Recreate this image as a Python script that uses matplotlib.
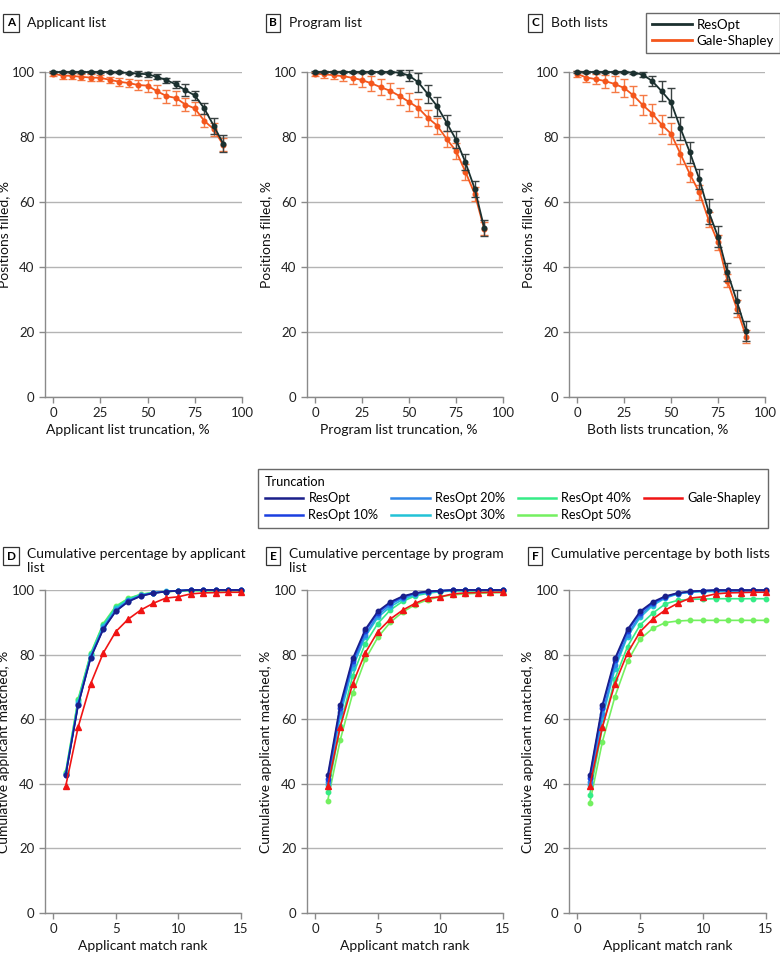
import numpy as np
import matplotlib
matplotlib.use("Agg")
import matplotlib.pyplot as plt

plt.rcParams['font.family'] = ['Lato', 'DejaVu Sans']

# top row: positions filled vs truncation
trunc = [0, 5, 10, 15, 20, 25, 30, 35, 40, 45, 50, 55, 60, 65, 70, 75, 80, 85, 90]

app_resopt = [100, 100, 100, 100, 100, 100, 100, 99.9, 99.7, 99.5, 99.3, 98.5, 97.5, 96.2, 94.4, 92.8, 88.8, 83.5, 78.0]
app_resopt_err = [0.3, 0.3, 0.3, 0.3, 0.3, 0.3, 0.3, 0.3, 0.4, 0.8, 0.8, 0.8, 0.8, 1.0, 1.8, 1.5, 1.8, 2.5, 2.5]
app_gs = [99.5, 98.9, 98.8, 98.5, 98.3, 98.2, 97.6, 97.0, 96.6, 96.0, 95.8, 94.1, 92.6, 92.0, 90.0, 88.8, 85.0, 82.4, 77.6]
app_gs_err = [0.6, 1.0, 1.0, 1.0, 1.0, 1.0, 1.0, 1.2, 1.3, 1.6, 1.8, 2.0, 2.0, 2.2, 2.0, 2.0, 2.0, 2.0, 2.0]

prog_resopt = [100, 100, 100, 100, 100, 100, 100, 100, 100, 99.8, 98.9, 96.8, 93.2, 89.4, 84.4, 79.2, 72.2, 64.0, 52.0]
prog_resopt_err = [0.2, 0.2, 0.2, 0.2, 0.2, 0.2, 0.2, 0.2, 0.2, 0.8, 1.8, 3.0, 2.8, 2.8, 2.5, 2.5, 2.5, 2.5, 2.5]
prog_gs = [99.5, 99.3, 99.0, 98.7, 98.2, 97.5, 96.5, 95.3, 94.2, 92.6, 90.8, 88.9, 85.9, 83.5, 79.4, 75.7, 69.3, 62.4, 51.7]
prog_gs_err = [0.6, 1.0, 1.2, 1.6, 1.9, 2.2, 2.3, 2.5, 2.5, 2.6, 2.8, 2.8, 2.5, 2.5, 2.5, 2.5, 2.5, 2.2, 2.0]

both_resopt = [100, 100, 100, 100, 100, 100, 99.8, 99.2, 97.2, 94.1, 90.7, 82.7, 75.3, 67.1, 57.1, 49.3, 38.4, 29.5, 20.3]
both_resopt_err = [0.3, 0.3, 0.3, 0.3, 0.3, 0.3, 0.3, 0.8, 1.5, 3.0, 4.5, 3.5, 3.3, 3.2, 3.8, 3.2, 2.8, 3.5, 3.0]
both_gs = [99.4, 98.3, 97.8, 97.2, 96.3, 95.1, 92.8, 89.8, 87.2, 83.8, 81.0, 74.8, 68.6, 63.0, 54.5, 47.6, 35.7, 27.2, 18.5]
both_gs_err = [0.8, 1.5, 1.5, 2.0, 2.5, 2.8, 2.8, 3.0, 3.0, 3.0, 3.3, 3.2, 2.4, 2.3, 2.3, 2.3, 2.0, 2.5, 2.0]

# bottom row: cumulative matched vs match rank
rank = list(range(1, 16))
gs_cum = [39.2, 57.6, 71.0, 80.5, 87.1, 91.0, 93.8, 95.9, 97.5, 97.9, 98.8, 99.1, 99.2, 99.3, 99.3]

d_series = {
    'ResOpt':     [42.6, 64.4, 79.0, 87.8, 93.4, 96.4, 98.1, 99.0, 99.5, 99.8, 100, 100, 100, 100, 100],
    'ResOpt 10%': [42.7, 64.5, 79.1, 87.9, 93.5, 96.5, 98.2, 99.1, 99.5, 99.8, 100, 100, 100, 100, 100],
    'ResOpt 20%': [42.9, 64.8, 79.4, 88.3, 93.8, 96.7, 98.3, 99.1, 99.5, 99.8, 100, 100, 100, 100, 100],
    'ResOpt 30%': [43.1, 65.3, 79.8, 88.8, 94.3, 97.0, 98.4, 99.2, 99.6, 99.8, 100, 100, 100, 100, 100],
    'ResOpt 40%': [43.4, 66.0, 80.2, 89.3, 94.8, 97.3, 98.6, 99.2, 99.5, 99.7, 99.8, 99.8, 99.8, 99.8, 99.8],
    'ResOpt 50%': [43.6, 66.3, 80.4, 89.6, 95.0, 97.4, 98.7, 99.2, 99.5, 99.7, 99.8, 99.8, 99.8, 99.8, 99.8],
}
e_series = {
    'ResOpt':     [42.6, 64.4, 78.8, 87.8, 93.4, 96.3, 98.1, 99.1, 99.6, 99.8, 100, 100, 100, 100, 100],
    'ResOpt 10%': [41.6, 63.5, 78.1, 87.3, 93.0, 96.0, 97.9, 99.0, 99.5, 99.8, 100, 100, 100, 100, 100],
    'ResOpt 20%': [40.6, 62.2, 77.1, 86.2, 92.2, 95.5, 97.6, 98.8, 99.4, 99.7, 99.9, 100, 100, 100, 100],
    'ResOpt 30%': [39.6, 61.0, 76.0, 85.5, 91.5, 94.8, 97.1, 98.5, 99.2, 99.6, 99.8, 99.9, 99.9, 99.9, 99.9],
    'ResOpt 40%': [37.4, 57.8, 73.5, 83.4, 89.6, 93.8, 96.5, 98.2, 99.0, 99.5, 99.7, 99.7, 99.7, 99.7, 99.7],
    'ResOpt 50%': [34.7, 53.5, 68.0, 78.5, 85.3, 90.0, 93.2, 95.5, 97.0, 97.9, 98.5, 98.8, 99.0, 99.1, 99.2],
}
f_series = {
    'ResOpt':     [42.6, 64.4, 78.8, 87.8, 93.4, 96.3, 98.1, 99.1, 99.6, 99.8, 100, 100, 100, 100, 100],
    'ResOpt 10%': [41.8, 63.6, 78.2, 87.3, 93.0, 96.0, 97.9, 99.0, 99.5, 99.8, 99.9, 99.9, 99.9, 99.9, 99.9],
    'ResOpt 20%': [40.6, 61.5, 76.8, 86.2, 92.2, 95.6, 97.7, 98.9, 99.4, 99.7, 99.8, 99.8, 99.8, 99.8, 99.8],
    'ResOpt 30%': [39.6, 60.2, 75.6, 85.6, 91.5, 95.2, 97.5, 98.8, 99.3, 99.5, 99.5, 99.5, 99.5, 99.5, 99.5],
    'ResOpt 40%': [36.6, 57.4, 72.5, 82.5, 89.2, 92.8, 95.7, 96.8, 97.1, 97.2, 97.3, 97.3, 97.3, 97.3, 97.3],
    'ResOpt 50%': [34.0, 53.0, 67.0, 77.9, 84.8, 88.1, 89.9, 90.4, 90.6, 90.6, 90.6, 90.6, 90.6, 90.6, 90.6],
}

trunc_colors = {
    'ResOpt': '#1a1f8a',
    'ResOpt 10%': '#1a3fe0',
    'ResOpt 20%': '#2f86e8',
    'ResOpt 30%': '#22c2d6',
    'ResOpt 40%': '#35ec86',
    'ResOpt 50%': '#74f060',
}
gs_red = '#f01414'
top_dark = '#1b302f'
top_orange = '#f4561c'
grid_c = '#b4b4b4'
spine_c = '#8a8a8a'

fig = plt.figure(figsize=(7.8, 9.66), dpi=100)
W, H = 780.0, 966.0


def px_axes(left, right, top, bottom):
    return fig.add_axes([left / W, 1 - bottom / H, (right - left) / W, (bottom - top) / H])


def style(ax, xlim, xticks, xlabel, ylabel, xlab_pos=0.5):
    ax.set_xlim(*xlim)
    ax.set_ylim(0, 100)
    ax.set_xticks(xticks)
    ax.set_yticks([0, 20, 40, 60, 80, 100])
    for s in ['top', 'right']:
        ax.spines[s].set_visible(False)
    for s in ['left', 'bottom']:
        ax.spines[s].set_color(spine_c)
        ax.spines[s].set_linewidth(1.0)
    ax.yaxis.grid(True, color=grid_c, linewidth=1.0)
    ax.set_axisbelow(True)
    ax.tick_params(axis='both', colors=spine_c, labelcolor='#222222', labelsize=9.5, length=4, width=1)
    ax.set_xlabel(xlabel, fontsize=10, color='#111111', labelpad=3, x=xlab_pos)
    ax.set_ylabel(ylabel, fontsize=10, color='#111111', labelpad=1)


def letter_box(x, y, letter):
    fig.text(x / W, 1 - y / H, letter, fontsize=8.5, fontweight='bold', ha='center', va='center',
             bbox=dict(boxstyle='square,pad=0.3', fc='white', ec='#333333', lw=0.9))


top_specs = [
    (45, 242, 'A', 'Applicant list', 'Applicant list truncation, %', 0.42,
     app_resopt, app_resopt_err, app_gs, app_gs_err),
    (307, 503, 'B', 'Program list', 'Program list truncation, %', 0.47,
     prog_resopt, prog_resopt_err, prog_gs, prog_gs_err),
    (569, 765, 'C', 'Both lists', 'Both lists truncation, %', 0.45,
     both_resopt, both_resopt_err, both_gs, both_gs_err),
]

for left, right, letter, title, xlabel, xpos, ro, ro_e, gs, gs_e in top_specs:
    ax = px_axes(left, right, 72, 397)
    style(ax, (-4.3, 100), [0, 25, 50, 75, 100], xlabel, 'Positions filled, %', xpos)
    ax.errorbar(trunc, gs, yerr=gs_e, color=top_orange, ecolor='#f57a45', elinewidth=1.0,
                capsize=3, capthick=1.0, marker='o', markersize=3.3, linewidth=1.3,
                clip_on=False, zorder=3)
    ax.errorbar(trunc, ro, yerr=ro_e, color=top_dark, ecolor='#3a4242', elinewidth=1.0,
                capsize=3, capthick=1.0, marker='o', markersize=3.3, linewidth=1.3,
                clip_on=False, zorder=4)
    letter_box(left - 34, 23, letter)
    fig.text((left - 18) / W, 1 - 23 / H, title, fontsize=10, ha='left', va='center', color='#111111')

# top legend
h1, = plt.plot([], [], color=top_dark, lw=2, label='ResOpt')
h2, = plt.plot([], [], color=top_orange, lw=2, label='Gale-Shapley')
leg = fig.legend(handles=[h1, h2], loc='upper left', bbox_to_anchor=(646 / W, 1 - 13 / H),
                 frameon=True, fancybox=False, fontsize=9.5, handlelength=3.0,
                 borderpad=0.45, labelspacing=0.3, handletextpad=0.4, borderaxespad=0)
leg.get_frame().set_edgecolor('#444444')
leg.get_frame().set_linewidth(1.0)

bottom_specs = [
    (45, 241, 'D', 'Cumulative percentage by applicant\nlist', d_series),
    (307, 503, 'E', 'Cumulative percentage by program\nlist', e_series),
    (569, 766, 'F', 'Cumulative percentage by both lists', f_series),
]

for left, right, letter, title, series in bottom_specs:
    ax = px_axes(left, right, 590, 913)
    style(ax, (-0.65, 15), [0, 5, 10, 15], 'Applicant match rank', 'Cumulative applicant matched, %')
    for name in ['ResOpt 50%', 'ResOpt 40%', 'ResOpt 30%', 'ResOpt 20%', 'ResOpt 10%', 'ResOpt']:
        ax.plot(rank, series[name], color=trunc_colors[name], marker='o', markersize=3.2,
                linewidth=1.2, clip_on=False, zorder=3)
    ax.plot(rank, gs_cum, color=gs_red, marker='^', markersize=4.5, linewidth=1.2,
            clip_on=False, zorder=4)
    letter_box(left - 34, 556, letter)
    fig.text((left - 18) / W, 1 - 548 / H, title, fontsize=10, ha='left', va='top',
             color='#111111', linespacing=1.15)

handles = []
for name in ['ResOpt', 'ResOpt 10%', 'ResOpt 20%', 'ResOpt 30%', 'ResOpt 40%', 'ResOpt 50%']:
    h, = plt.plot([], [], color=trunc_colors[name], lw=1.8, label=name)
    handles.append(h)
h, = plt.plot([], [], color=gs_red, lw=1.8, label='Gale-Shapley')
handles.append(h)

leg2 = fig.legend(handles=handles, loc='upper left', bbox_to_anchor=(258 / W, 1 - 469 / H),
                  ncol=4, title='Truncation', frameon=True, fancybox=False, fontsize=9.2,
                  title_fontsize=9.2, handlelength=3.0, borderpad=0.55, labelspacing=0.35,
                  handletextpad=0.4, columnspacing=1.0, borderaxespad=0)
leg2._legend_box.align = 'left'
leg2.get_frame().set_edgecolor('#444444')
leg2.get_frame().set_linewidth(1.0)

fig.savefig('out.png', dpi=100)
